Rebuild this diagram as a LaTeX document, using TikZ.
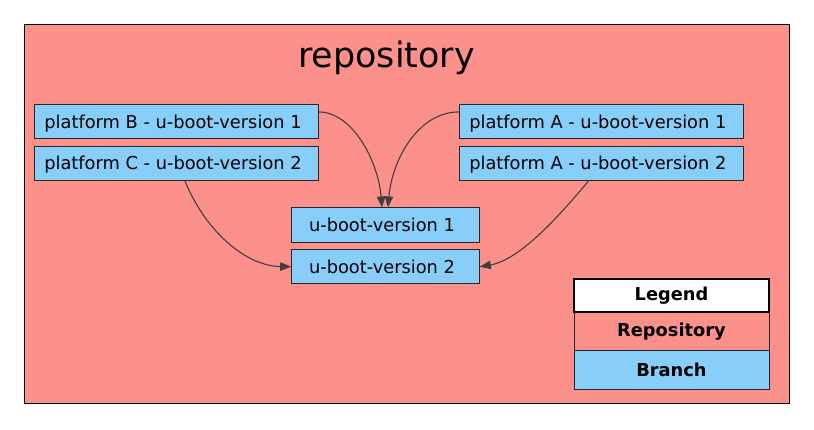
\documentclass[tikz,border=0pt]{standalone}
\usepackage{fontspec}
\setmainfont{DejaVu Sans}
\usetikzlibrary{arrows.meta,calc}
\definecolor{repofill}{RGB}{252,144,138}
\definecolor{branchfill}{RGB}{135,206,250}
\definecolor{edgegray}{RGB}{64,64,64}
\newcommand{\btxt}[1]{#1\kern7pt}
\begin{document}
\begin{tikzpicture}[x=1pt,y=-1pt,
  branchbox/.style={draw=black!85,line width=1pt,fill=branchfill,inner sep=0pt,
    minimum height=34.5pt,text height=14pt,text depth=1.4pt,font=\fontsize{17.8}{20}\selectfont},
  legendrow/.style={draw=black!85,line width=1pt,inner sep=0pt,minimum width=195pt,
    minimum height=38.5pt,font=\fontsize{17.8}{20}\selectfont\bfseries},
  edge/.style={draw=edgegray,line width=1.1pt,-{Triangle[length=11pt,width=8.5pt]}}]
\useasboundingbox (0,0) rectangle (814,429);
\node[draw=black,line width=0.9pt,fill=repofill,minimum width=765pt,minimum height=379pt,inner sep=0pt] (repo) at (406.5,213.5) {};
\node[font=\fontsize{34.9}{40}\selectfont] (title) at (386.5,58) {repository};
\node[branchbox,minimum width=283.5pt] (B1) at (176.5,121.7) {\btxt{platform B - u-boot-version 1}};
\node[branchbox,minimum width=283.5pt] (C2) at (176.5,163.5) {\btxt{platform C - u-boot-version 2}};
\node[branchbox,minimum width=284pt] (A1) at (601.3,121.7) {\btxt{platform A - u-boot-version 1}};
\node[branchbox,minimum width=284pt] (A2) at (601.3,163.5) {\btxt{platform A - u-boot-version 2}};
\node[branchbox,minimum width=187.6pt] (U1) at (385.5,225.2) {\btxt{u-boot-version 1}};
\node[branchbox,minimum width=187.6pt] (U2) at (385.5,266.7) {\btxt{u-boot-version 2}};
\draw[edge] ($(B1.north east)+(0,8)$) .. controls (352,112) and (378,160) .. ($(U1.north)+(-3.5,0)$);
\draw[edge] ($(A1.north west)+(0,8)$) .. controls (418,112) and (392,160) .. ($(U1.north)+(2.5,0)$);
\draw[edge] ($(C2.south)+(8.5,0)$) .. controls (205,230) and (245,266) .. (U2.west);
\draw[edge] ($(A2.south)+(-13,0)$) .. controls (560,215) and (520,260) .. (U2.east);
\node[legendrow,fill=repofill] (lrepo) at (671.5,331.5) {Repository};
\node[legendrow,fill=branchfill] (lbranch) at (671.5,370) {Branch};
\node[draw=black,line width=2.6pt,fill=white,inner sep=0pt,minimum width=195pt,minimum height=33pt,font=\fontsize{17.8}{20}\selectfont\bfseries] (legend) at (671.5,295.3) {Legend};
\end{tikzpicture}
\end{document}
